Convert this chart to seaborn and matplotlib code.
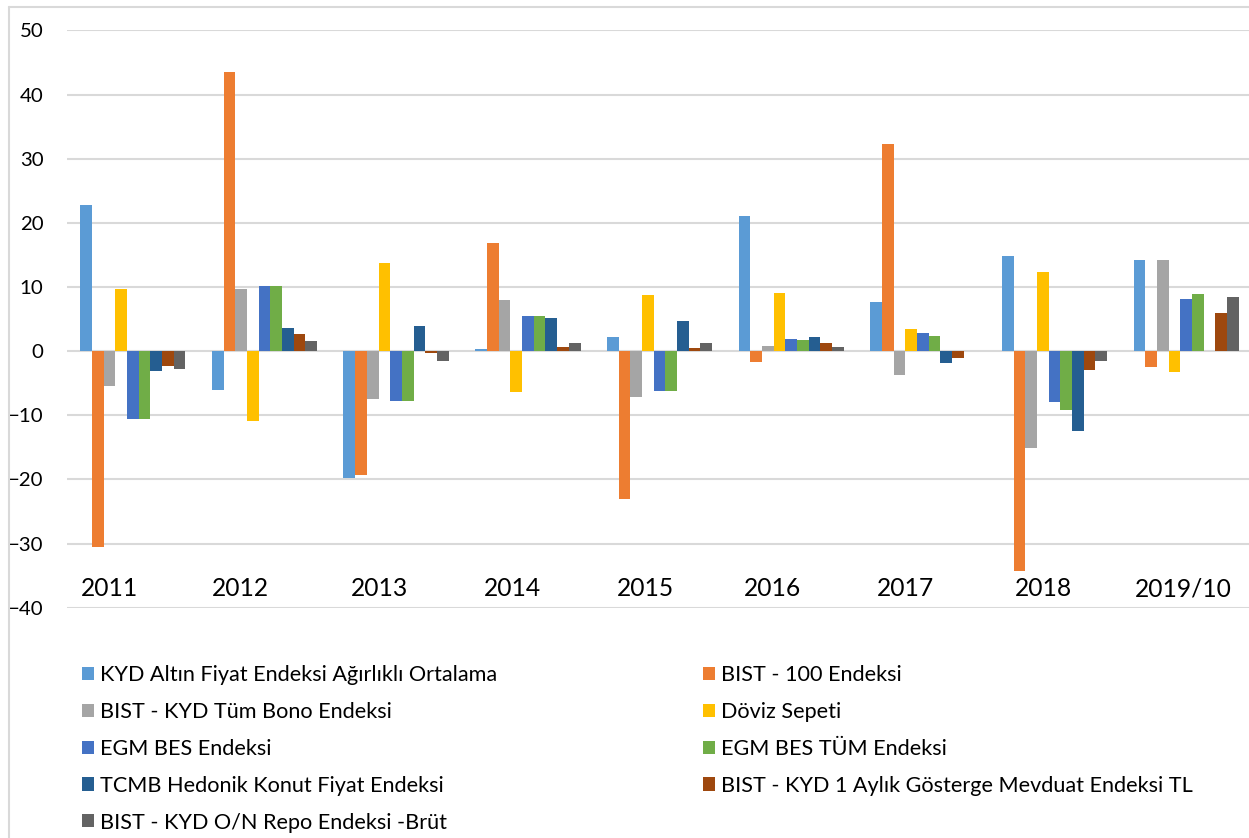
import numpy as np
import pandas as pd
import matplotlib
matplotlib.use("Agg")
import matplotlib.pyplot as plt
import seaborn as sns
from matplotlib.patches import Patch
from matplotlib.lines import Line2D

# ---------------- data ----------------
categories = ["2011", "2012", "2013", "2014", "2015", "2016", "2017", "2018", "2019/10"]

series_names = [
    "KYD Altın Fiyat Endeksi Ağırlıklı Ortalama",
    "BIST - 100 Endeksi",
    "BIST - KYD Tüm Bono Endeksi",
    "Döviz Sepeti",
    "EGM BES Endeksi",
    "EGM BES TÜM Endeksi",
    "TCMB Hedonik Konut Fiyat Endeksi",
    "BIST - KYD 1 Aylık Gösterge Mevduat Endeksi TL",
    "BIST - KYD O/N Repo Endeksi -Brüt",
]

altin = [22.8, -6.0, -19.8, 0.4, 2.2, 21.0, 7.7, 14.8, 14.2]
bist100 = [-30.6, 43.6, -19.3, 16.8, -23.0, -1.7, 32.3, -34.3, -2.5]
bono = [-5.5, 9.7, -7.5, 8.0, -7.2, 0.8, -3.7, -15.1, 14.2]
doviz = [9.7, -10.9, 13.8, -6.4, 8.75, 9.1, 3.4, 12.3, -3.3]
egm_bes = [-10.5, 10.2, -7.7, 5.5, -6.2, 1.85, 2.9, -8.0, 8.1]
egm_bes_tum = [-10.5, 10.2, -7.7, 5.5, -6.2, 1.7, 2.3, -9.1, 8.9]
hedonik = [-3.1, 3.6, 3.9, 5.2, 4.75, 2.2, -1.85, -12.4, np.nan]
mevduat = [-2.3, 2.6, -0.25, 0.7, 0.55, 1.2, -1.1, -3.0, 5.9]
repo = [-2.8, 1.6, -1.6, 1.2, 1.35, 0.7, 0.1, -1.6, 8.5]

series_values = [altin, bist100, bono, doviz, egm_bes, egm_bes_tum, hedonik, mevduat, repo]

y_ticks = [-40, -30, -20, -10, 0, 10, 20, 30, 40, 50]

# ---------------- style ----------------
colors = ["#5B9BD5", "#ED7D31", "#A5A5A5", "#FFC000", "#4472C4",
          "#70AD47", "#255E91", "#9E480E", "#636363"]
label_offsets = [-0.18, -0.18, -0.125, -0.115, -0.105, -0.145, -0.135, -0.085, -0.025]

rows = []
for name, vals in zip(series_names, series_values):
    for cat, v in zip(categories, vals):
        if not np.isnan(v):
            rows.append({"Yıl": cat, "Seri": name, "Değer": v})
df = pd.DataFrame(rows)

sns.set_theme(style="white")
plt.rcParams["font.family"] = ["Lato", "DejaVu Sans"]

W, H = 1249, 838
fig = plt.figure(figsize=(W / 100, H / 100), dpi=100)
y_top, y_bot = 30.5, 607.7
x_left, x_right = 67, 1252
ax = fig.add_axes([x_left / W, 1 - y_bot / H, (x_right - x_left) / W, (y_bot - y_top) / H])

sns.barplot(data=df, x="Yıl", y="Değer", hue="Seri", order=categories,
            hue_order=series_names, palette=dict(zip(series_names, colors)),
            errorbar=None, width=0.8, saturation=1, linewidth=0, ax=ax, legend=False)

ax.set_xlim(-0.5, len(categories) - 0.5)
ax.set_ylim(-40, 50)
ax.set_yticks(y_ticks)
ax.set_xticks([])
ax.set_xlabel("")
ax.set_ylabel("")
ax.yaxis.grid(True, color="#D9D9D9", linewidth=1.5)
ax.set_axisbelow(True)
for s in ax.spines.values():
    s.set_visible(False)
ax.tick_params(axis="y", length=0, pad=17, labelsize=14.7, labelcolor="black")

for i, cat in enumerate(categories):
    ax.text(i + label_offsets[i], -38.2, cat, ha="center", va="baseline",
            fontsize=17.7, color="black")

# chart border
fig.add_artist(Line2D([8.5 / W, 8.5 / W], [0, 1 - 7 / H], transform=fig.transFigure,
                      color="#D9D9D9", linewidth=1.5))
fig.add_artist(Line2D([8.5 / W, 1], [1 - 7 / H, 1 - 7 / H], transform=fig.transFigure,
                      color="#D9D9D9", linewidth=1.5))

# legend (row-wise order in 2 columns)
handles = [Patch(facecolor=c, edgecolor="none") for c in colors]
order = [0, 2, 4, 6, 8, 1, 3, 5, 7]
fs = 15.6
fig.legend([handles[i] for i in order], [series_names[i] for i in order],
           ncol=2, loc="upper left", bbox_to_anchor=(82 / W, 1 - 665 / H),
           frameon=False, fontsize=fs, handlelength=12 / (fs * 100 / 72),
           handleheight=12 / (fs * 100 / 72),
           handletextpad=6 / (fs * 100 / 72), columnspacing=206 / (fs * 100 / 72),
           labelspacing=0.78, borderpad=0, borderaxespad=0, labelcolor="black")

fig.savefig("out.png", dpi=100)
